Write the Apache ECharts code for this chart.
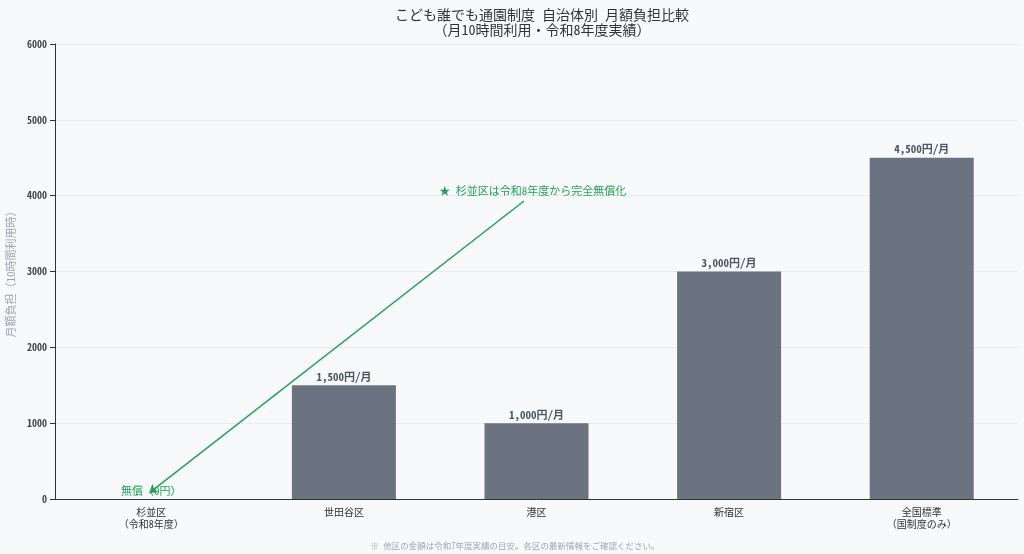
<!DOCTYPE html>
<html><head><meta charset="utf-8">
<script src="https://cdn.jsdelivr.net/npm/echarts@6/dist/echarts.min.js"></script>
<style>html,body{margin:0;padding:0;background:#f8f9fb}#c{width:1024px;height:554px}</style>
</head><body><div id="c"></div>
<script>
const categories = ['杉並区\n（令和8年度）', '世田谷区', '港区', '新宿区', '全国標準\n（国制度のみ）'];
const values = [0, 1500, 1000, 3000, 4500];
const barLabels = ['無償（0円）', '1,500円/月', '1,000円/月', '3,000円/月', '4,500円/月'];
const yTicks = { min: 0, max: 6000, interval: 1000 };
const arrowFrom = [2.435, 3930];
const arrowTo = [0.49, 80];
const notePos = [2.48, 4060];
const noteText = '★ 杉並区は令和8年度から完全無償化';
const titleText = 'こども誰でも通園制度 自治体別 月額負担比較\n（月10時間利用・令和8年度実績）';
const yName = '月額負担（10時間利用時）';
const footText = '※ 他区の金額は令和7年度実績の目安。各区の最新情報をご確認ください。';

const FONT = '"Noto Sans Mono CJK JP", "Noto Sans CJK JP", monospace';
const GREEN = '#22a356';
const chart = echarts.init(document.getElementById('c'));
chart.setOption({
  backgroundColor: '#f8f9fb',
  textStyle: { fontFamily: FONT },
  title: [{
    text: titleText, left: 537, top: 2, textAlign: 'center',
    textStyle: { fontSize: 14, fontWeight: 'normal', color: '#333', lineHeight: 15, fontFamily: FONT }
  }, {
    text: footText, left: 510, top: 537, textAlign: 'center',
    textStyle: { fontSize: 8.5, fontWeight: 'normal', color: '#a0a6b0', fontFamily: FONT }
  }],
  grid: { left: 55, right: 6, top: 44, bottom: 55, containLabel: false, outerBoundsMode: 'none' },
  xAxis: [{
    type: 'category', data: categories,
    axisLine: { lineStyle: { color: '#333' } },
    axisTick: { alignWithLabel: true, lineStyle: { color: '#333' } },
    axisLabel: { color: '#333', fontSize: 10, lineHeight: 12, margin: 7, fontFamily: FONT }
  }, {
    type: 'value', min: 0, max: 5, show: false
  }],
  yAxis: {
    type: 'value', min: yTicks.min, max: yTicks.max, interval: yTicks.interval,
    name: yName, nameLocation: 'middle', nameGap: 38, nameRotate: 90,
    nameTextStyle: { color: '#9ca3af', fontSize: 11, fontFamily: FONT },
    axisLine: { show: true, lineStyle: { color: '#333' } },
    axisTick: { show: true, lineStyle: { color: '#333' } },
    axisLabel: { color: '#444', fontSize: 10, fontWeight: 'bold', fontFamily: FONT, formatter: v => String(v) },
    splitLine: { lineStyle: { color: '#e8eaef' } }
  },
  series: [{
    type: 'bar', xAxisIndex: 0, barWidth: '54%',
    data: values.map((v, i) => ({
      value: v,
      label: i === 0 ? { color: GREEN, fontWeight: 'normal', fontSize: 11 } : undefined
    })),
    itemStyle: { color: '#6b7280' },
    label: {
      show: true, position: 'top', distance: 3,
      formatter: p => barLabels[p.dataIndex],
      color: '#4b5563', fontSize: 11, fontWeight: 'bold', fontFamily: FONT
    }
  }, {
    type: 'scatter', xAxisIndex: 1, data: [], silent: true,
    markLine: {
      silent: true, symbol: ['none', 'arrow'], symbolSize: 8,
      lineStyle: { color: GREEN, width: 1.5, type: 'solid' },
      label: { show: false },
      data: [[{ coord: arrowFrom }, { coord: arrowTo }]]
    },
    markPoint: {
      silent: true, symbol: 'circle', symbolSize: 0,
      label: { show: true, formatter: noteText, color: GREEN, fontSize: 11, fontFamily: FONT },
      data: [{ coord: notePos }]
    }
  }]
});
</script></body></html>
